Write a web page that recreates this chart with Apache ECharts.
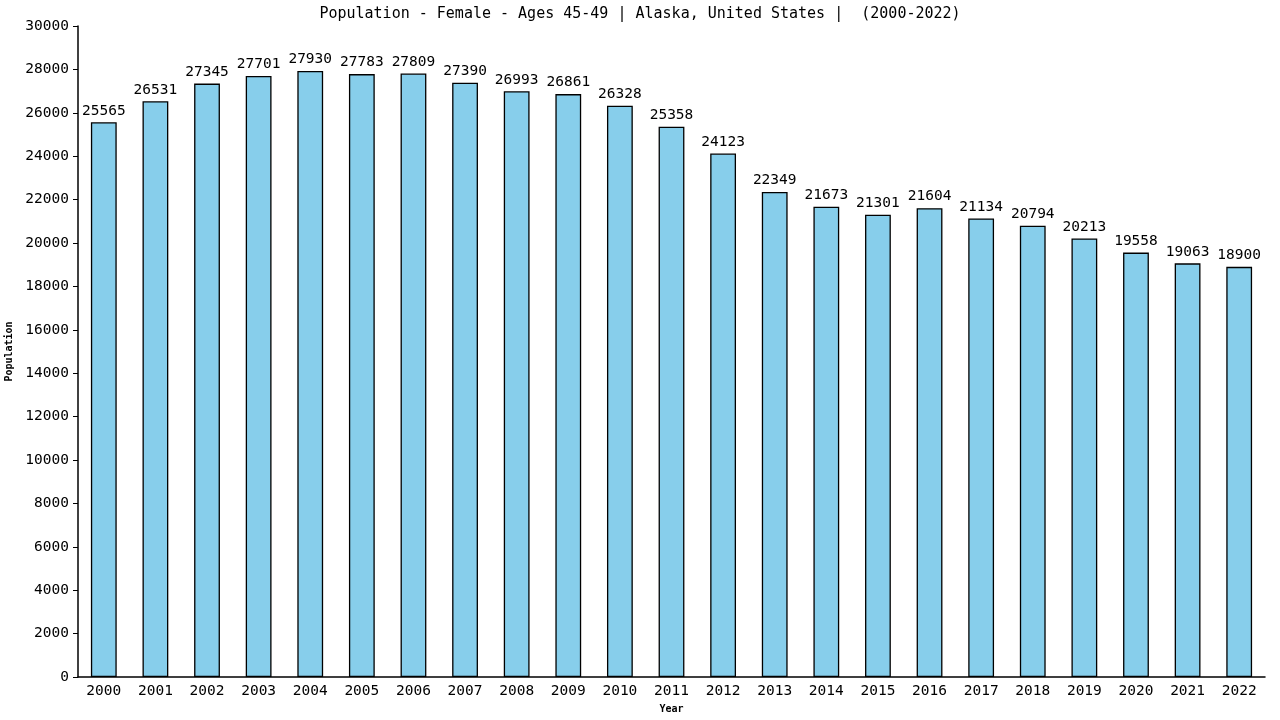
<!DOCTYPE html>
<html><head><meta charset="utf-8">
<script src="https://cdn.jsdelivr.net/npm/echarts@6/dist/echarts.min.js"></script>
<style>html,body{margin:0;padding:0;background:#fff}#c{width:1280px;height:720px}</style>
</head><body><div id="c"></div>
<script>
const years = ['2000','2001','2002','2003','2004','2005','2006','2007','2008','2009','2010','2011','2012','2013','2014','2015','2016','2017','2018','2019','2020','2021','2022'];
const population = [25565,26531,27345,27701,27930,27783,27809,27390,26993,26861,26328,25358,24123,22349,21673,21301,21604,21134,20794,20213,19558,19063,18900];
const titleText = 'Population - Female - Ages 45-49 | Alaska, United States |  (2000-2022)';
const font = 'DejaVu Sans Mono';
const chart = echarts.init(document.getElementById('c'));
chart.setOption({
  animation: false,
  title: { text: titleText, left: 'center', top: 2, textStyle: { fontFamily: font, fontSize: 15, fontWeight: 'normal', color: '#000' } },
  grid: { left: 78, right: 15, top: 26, bottom: 43, containLabel: false, outerBoundsMode: 'none' },
  xAxis: {
    type: 'category', data: years, name: 'Year', nameLocation: 'middle', nameGap: 27,
    nameTextStyle: { fontFamily: font, fontSize: 10, fontWeight: 'bold', color: '#000' },
    axisLine: { lineStyle: { color: '#000', width: 1.5 } },
    axisTick: { show: false },
    axisLabel: { fontFamily: font, fontSize: 14.5, color: '#000', margin: 7, interval: 0 }
  },
  yAxis: {
    type: 'value', min: 0, max: 30000, interval: 2000, name: 'Population', nameLocation: 'middle', nameGap: 62,
    nameTextStyle: { fontFamily: font, fontSize: 10, fontWeight: 'bold', color: '#000' },
    axisLine: { show: true, lineStyle: { color: '#000', width: 1.5 } },
    axisTick: { show: true, length: 5, lineStyle: { color: '#000' } },
    splitLine: { show: false },
    axisLabel: { fontFamily: font, fontSize: 14.5, color: '#000', margin: 9, formatter: v => String(v) }
  },
  series: [{
    type: 'bar', data: population, barWidth: '50%',
    itemStyle: { color: '#87CEEB', borderColor: '#000', borderWidth: 1.3 },
    label: { show: true, position: 'top', distance: 4, fontFamily: font, fontSize: 14.5, color: '#000' }
  }]
});
</script></body></html>
